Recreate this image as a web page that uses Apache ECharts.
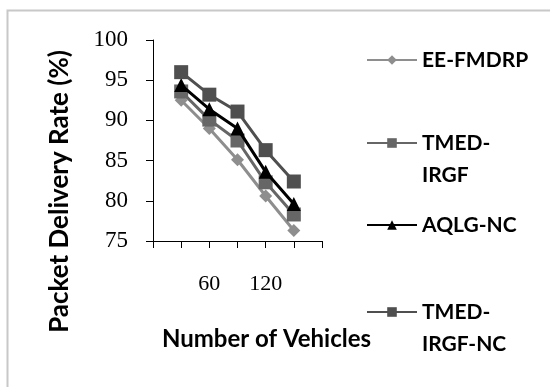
<!DOCTYPE html>
<html>
<head>
<meta charset="utf-8">
<script src="https://cdn.jsdelivr.net/npm/echarts@6/dist/echarts.min.js"></script>
<style>html,body{margin:0;padding:0;background:#fff}#c{width:550px;height:387px}</style>
</head>
<body>
<div id="c"></div>
<script>
var xValues = [30, 60, 90, 120, 150];
var xTickLabels = [60, 120];
var yTicks = [75, 80, 85, 90, 95, 100];
var seriesNames = ['EE-FMDRP', 'TMED-IRGF', 'AQLG-NC', 'TMED-IRGF-NC'];
var eeFmdrp = [92.5, 89.0, 85.1, 80.6, 76.3];
var tmedIrgf = [93.6, 90.1, 87.5, 82.3, 78.3];
var aqlgNc = [94.4, 91.4, 89.0, 83.6, 79.6];
var tmedIrgfNc = [96.0, 93.2, 91.1, 86.3, 82.4];
var legendLabels = ['EE-FMDRP', '\nTMED-\nIRGF', 'AQLG-NC', '\nTMED-\nIRGF-NC'];

var allValues = [eeFmdrp, tmedIrgf, aqlgNc, tmedIrgfNc];
var colors = ['#8e8e8e', '#666666', '#000000', '#4f4f4f'];
var symbols = ['diamond', 'rect', 'triangle', 'rect'];
var symbolSizes = [13, 14, 14, 14];

var chart = echarts.init(document.getElementById('c'));
var series = seriesNames.map(function (n, i) {
  return {
    name: n,
    type: 'line',
    data: xValues.map(function (x, j) { return [x, allValues[i][j]]; }),
    symbol: symbols[i],
    symbolSize: symbolSizes[i],
    showAllSymbol: true,
    itemStyle: { color: colors[i] },
    lineStyle: { color: colors[i], width: 3 },
    z: 2 + i
  };
});
var legendTops = [39, 90, 204, 259];
var legends = seriesNames.map(function (n, i) {
  return {
    data: [n],
    left: 361,
    top: legendTops[i],
    itemWidth: 50,
    itemHeight: 12,
    itemGap: 6,
    formatter: function () { return legendLabels[i]; },
    textStyle: { fontFamily: 'Lato', fontWeight: 'bold', fontSize: 21, color: '#000', lineHeight: 32 },
    selectedMode: false
  };
});

chart.setOption({
  animation: false,
  backgroundColor: '#fff',
  grid: { left: 153, right: 228, top: 40, bottom: 146, outerBoundsMode: 'none', containLabel: false },
  graphic: [{
    type: 'rect', shape: { x: 7.5, y: 10.5, width: 600, height: 400 },
    style: { fill: 'none', stroke: '#c8c8c8', lineWidth: 2 }, silent: true
  }],
  legend: legends,
  xAxis: {
    type: 'value', min: 0, max: 180, interval: 30,
    name: 'Number of Vehicles', nameLocation: 'middle', nameGap: 86,
    nameTextStyle: { fontFamily: 'Lato', fontWeight: 'bold', fontSize: 24, color: '#000', padding: [0, 0, 0, 58] },
    axisLine: { lineStyle: { color: '#000', width: 1 } },
    axisTick: { show: true, length: 7, inside: false, lineStyle: { color: '#000' } },
    splitLine: { show: false },
    axisLabel: {
      margin: 32,
      fontFamily: 'Liberation Serif', fontSize: 22, color: '#000',
      formatter: function (v) { return xTickLabels.indexOf(v) >= 0 ? String(v) : ''; }
    }
  },
  yAxis: {
    type: 'value', min: yTicks[0], max: yTicks[yTicks.length - 1], interval: 5,
    name: 'Packet Delivery Rate (%)', nameLocation: 'middle', nameGap: 80,
    nameTextStyle: { fontFamily: 'Lato', fontWeight: 'bold', fontSize: 26, color: '#000', padding: [0, 102, 0, 0] },
    axisLine: { show: true, lineStyle: { color: '#000', width: 1 } },
    axisTick: { show: true, length: 7, lineStyle: { color: '#000' } },
    splitLine: { show: false },
    axisLabel: { margin: 25, fontFamily: 'Liberation Serif', fontSize: 23, color: '#000' }
  },
  series: series
});
</script>
</body>
</html>
